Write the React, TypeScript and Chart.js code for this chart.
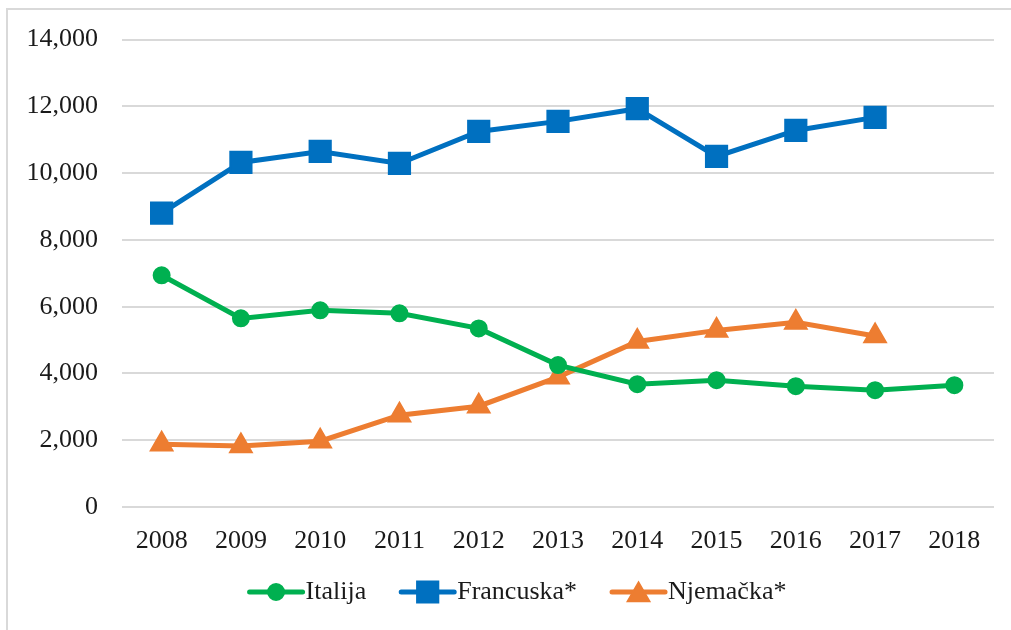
import React, { useEffect, useRef } from "react";
import { Chart, registerables } from "chart.js";

Chart.register(...registerables);

const years = ["2008", "2009", "2010", "2011", "2012", "2013", "2014", "2015", "2016", "2017", "2018"];
const italija = [6940, 5650, 5890, 5800, 5350, 4250, 3680, 3800, 3620, 3500, 3650];
const francuska = [8800, 10320, 10650, 10290, 11250, 11550, 11930, 10500, 11280, 11670, null];
const njemacka = [1880, 1830, 1970, 2750, 3020, 3890, 4960, 5290, 5530, 5120, null];

const seriesNames = ["Italija", "Francuska*", "Njemačka*"];
const seriesColors = ["#00B050", "#0070C0", "#ED7D31"];
const yTicks = { min: 0, max: 14000, step: 2000 };

const FONT = "'Liberation Serif', 'Times New Roman', serif";

export default function App() {
  const ref = useRef<HTMLCanvasElement | null>(null);

  useEffect(() => {
    if (!ref.current) return;
    document.body.style.overflow = "hidden";

    const frame = {
      id: "frame",
      beforeDraw(chart: any) {
        const ctx = chart.ctx;
        ctx.save();
        ctx.fillStyle = "#ffffff";
        ctx.fillRect(0, 0, chart.width, chart.height);
        ctx.strokeStyle = "#d9d9d9";
        ctx.lineWidth = 2;
        ctx.beginPath();
        ctx.moveTo(7, chart.height);
        ctx.lineTo(7, 9);
        ctx.lineTo(chart.width, 9);
        ctx.stroke();
        ctx.restore();
      },
    };

    const legend = {
      id: "customLegend",
      afterDraw(chart: any) {
        const ctx = chart.ctx;
        ctx.save();
        ctx.font = `26px ${FONT}`;
        const lineLen = 57;
        const textGap = 1;
        const itemGap = 33;
        const widths = chart.data.datasets.map((d: any) => ctx.measureText(d.label).width);
        const total =
          widths.reduce((a: number, b: number) => a + b, 0) +
          widths.length * (lineLen + textGap) +
          (widths.length - 1) * itemGap;
        let x = 517 - total / 2;
        const y = 592;
        chart.data.datasets.forEach((d: any, i: number) => {
          ctx.strokeStyle = d.borderColor;
          ctx.lineWidth = 5;
          ctx.lineCap = "round";
          ctx.beginPath();
          ctx.moveTo(x + 2, y);
          ctx.lineTo(x + lineLen - 2, y);
          ctx.stroke();
          ctx.fillStyle = d.pointBackgroundColor;
          ctx.strokeStyle = d.pointBorderColor;
          ctx.lineWidth = d.pointBorderWidth;
          (Chart as any).helpers
            ? null
            : null;
          drawMarker(ctx, d.pointStyle, d.pointRadius, x + lineLen / 2, y + (d.pointStyle === "triangle" ? 3 : 0));
          ctx.fillStyle = "#1a1a1a";
          ctx.textBaseline = "middle";
          ctx.textAlign = "left";
          ctx.fillText(d.label, x + lineLen + textGap, y);
          x += lineLen + textGap + widths[i] + itemGap;
        });
        ctx.restore();
      },
    };

    function drawMarker(ctx: CanvasRenderingContext2D, style: string, r: number, x: number, y: number) {
      ctx.beginPath();
      if (style === "circle") {
        ctx.arc(x, y, r, 0, Math.PI * 2);
      } else if (style === "rect") {
        const s = Math.SQRT1_2 * r;
        ctx.rect(x - s, y - s, 2 * s, 2 * s);
      } else {
        ctx.moveTo(x, y - r);
        ctx.lineTo(x + r * 0.866, y + r / 2);
        ctx.lineTo(x - r * 0.866, y + r / 2);
        ctx.closePath();
      }
      ctx.fill();
      ctx.stroke();
    }

    const mk = (i: number, data: any[], style: string, radius: number) => ({
      label: seriesNames[i],
      data,
      borderColor: seriesColors[i],
      backgroundColor: seriesColors[i],
      pointBackgroundColor: seriesColors[i],
      pointBorderColor: seriesColors[i],
      pointBorderWidth: 2,
      borderWidth: 5,
      pointStyle: style,
      pointRadius: radius,
      pointHoverRadius: radius,
      tension: 0,
      spanGaps: false,
    });

    const chart = new Chart(ref.current, {
      type: "line",
      data: {
        labels: years,
        datasets: [
          mk(0, italija, "circle", 8),
          mk(1, francuska, "rect", 15),
          mk(2, njemacka, "triangle", 12.5),
        ],
      },
      options: {
        animation: false,
        responsive: false,
        devicePixelRatio: 1,
        layout: { padding: { top: 39, right: 16, left: 0, bottom: 0 } },
        plugins: {
          legend: { display: false },
          tooltip: { enabled: false },
        },
        scales: {
          x: {
            offset: true,
            afterFit(scale: any) {
              scale.height = 123;
            },
            grid: { display: false, drawTicks: false },
            border: { display: false },
            ticks: {
              padding: 19,
              color: "#1a1a1a",
              font: { family: FONT, size: 26 },
              maxRotation: 0,
              autoSkip: false,
            },
          },
          y: {
            min: yTicks.min,
            max: yTicks.max,
            afterFit(scale: any) {
              scale.width = 122;
            },
            grid: { color: "#d9d9d9", lineWidth: 2, drawTicks: false },
            border: { display: false },
            ticks: {
              stepSize: yTicks.step,
              padding: 24,
              color: "#1a1a1a",
              font: { family: FONT, size: 26 },
              callback: (v: any) => Number(v).toLocaleString("en-US"),
            },
          },
        },
      },
      plugins: [frame, legend],
    } as any);

    return () => chart.destroy();
  }, []);

  return (
    <div style={{ position: "fixed", left: 0, top: 0, width: 1011, height: 630, background: "#fff" }}>
      <canvas ref={ref} width={1011} height={630} style={{ display: "block", width: 1011, height: 630 }} />
    </div>
  );
}
